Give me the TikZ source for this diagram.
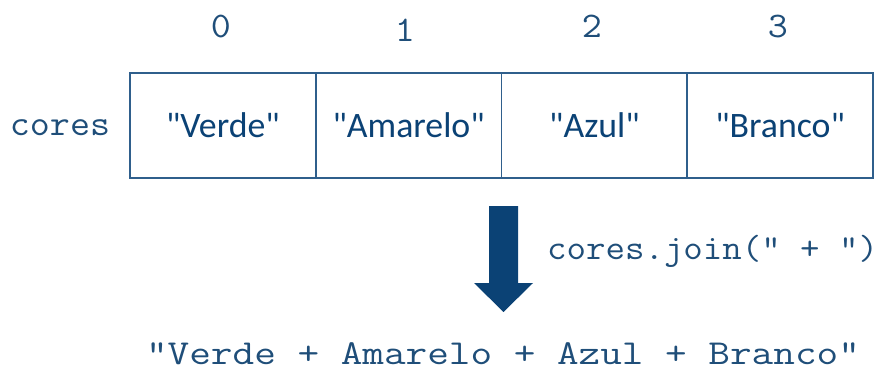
\documentclass[tikz,border=0pt]{standalone}
\usepackage{fontspec}
\newfontfamily\cellfont{Carlito}
\newfontfamily\codefont{Latin Modern Mono}[FakeStretch=1.08]
\newfontfamily\widecode{Latin Modern Mono}[FakeStretch=1.2]
\definecolor{ink}{HTML}{1F4E79}
\definecolor{edge}{HTML}{2F5F8C}
\definecolor{arrowblue}{HTML}{0B4275}
\tikzset{
  cell/.style={draw=edge, line width=1.5pt, minimum width=185.75pt, minimum height=105pt,
    inner sep=0pt, text=arrowblue, font=\cellfont\fontsize{35.8}{40}\selectfont},
  idx/.style={text=ink, inner sep=0pt, anchor=base, font=\codefont\fontsize{36}{40}\selectfont},
  code/.style={text=ink, inner sep=0pt, font=\codefont\fontsize{36}{40}\selectfont},
}
\begin{document}
\begin{tikzpicture}[x=1pt,y=-1pt]
\useasboundingbox (0,0) rectangle (878,370);
% array cells
\node[cell] (c0) at (222.9,125.5) {"Verde"};
\node[cell] (c1) at (408.6,125.5) {"Amarelo"};
\node[cell] (c2) at (594.4,125.5) {"Azul"};
\node[cell] (c3) at (780.1,125.5) {"Branco"};
% indices
\node[idx] (i0) at (221,37.5) {0};
\node[idx] (i1) at (405,41) {1};
\node[idx] (i2) at (592,37.5) {2};
\node[idx] (i3) at (778,37.5) {3};
% variable name
\node[code, anchor=base] (name) at (60,135) {cores};
% block arrow
\fill[arrowblue] (489,206) -- (518,206) -- (518,283) -- (533,283) -- (503.5,312)
  -- (474,283) -- (489,283) -- cycle;
\node[code, anchor=base west, font=\codefont\fontsize{35}{40}\selectfont] (call) at (547,259)
  {cores.join(" + ")};
% result
\node[code, anchor=base, font=\widecode\fontsize{35}{40}\selectfont] (res) at (503,364)
  {"Verde + Amarelo + Azul + Branco"};
\end{tikzpicture}
\end{document}
